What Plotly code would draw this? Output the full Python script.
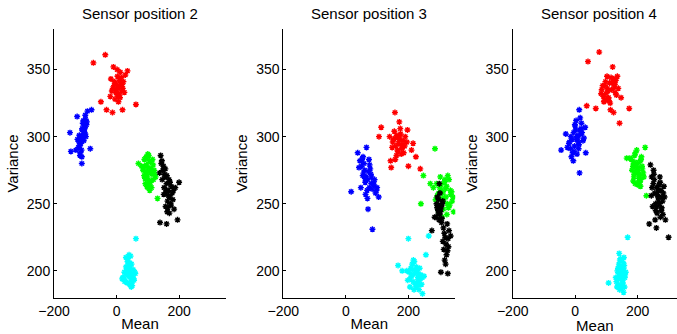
import plotly.graph_objects as go

# ---------------- data (Mean, Variance) ----------------
# Sensor position 2
p2_red_mean = [-74,-36,-10,35,62,-50,-32,-13,19,-20,-15,-8,-3,0,3,5,8,10,12,15,18,22,25,-5,2,6,-12,-18,9,14,28,-2,4,11,-7,20,1,16]
p2_red_var = [355,361,352,349,324,326,320,318,320,330,334,338,340,335,345,330,337,342,348,334,339,341,333,328,350,326,336,343,331,339,346,333,338,329,341,336,332,344]
p2_blue_mean = [-149,-146,-111,-111,-84,-80,-93,-126,-120,-115,-110,-105,-100,-108,-113,-118,-102,-98,-106,-112,-104,-96,-109,-116,-122,-101,-107,-114,-99,-103,-117,-125,-130,-95,-110,-105,-119,-100]
p2_blue_var = [303,289,280,285,291,320,319,315,296,300,305,308,302,310,298,293,306,300,312,290,304,309,299,288,292,307,301,295,313,303,286,298,290,311,306,297,301,316]
p2_green_mean = [70,131,95,100,105,90,110,115,85,98,102,108,92,88,112,120,96,104,99,94,118,106,86,101,113,97,109,91,103,125,80,107,93,111,100,117,89,122]
p2_green_var = [280,254,285,287,282,278,276,283,275,270,268,273,265,271,262,275,279,266,274,284,268,260,276,277,272,263,281,269,286,270,278,264,273,267,262,279,283,272]
p2_black_mean = [138,139,160,195,184,200,141,150,155,160,165,170,148,152,158,163,168,175,145,157,162,172,178,153,166,180,146,159,171,156,164,188,143,151,174,161,169,182]
p2_black_var = [273,236,235,238,246,266,286,278,270,265,260,255,275,262,258,252,268,263,282,248,244,250,258,272,256,253,268,260,266,276,247,262,280,257,249,271,243,260]
p2_cyan_mean = [62,20,25,30,35,40,45,50,55,32,38,42,48,28,36,44,52,58,22,34,41,47,53,39,30,46,60,26,43,37,50,33,56,41,45,18,29,48]
p2_cyan_var = [224,195,199,203,207,212,196,192,194,200,205,190,198,193,209,202,197,199,195,191,204,188,201,196,210,194,198,192,206,197,189,201,193,200,211,194,198,205]

# Sensor position 3
p3_red_mean = [157,113,106,145,200,238,224,197,140,150,160,165,170,175,180,185,155,162,172,178,168,190,210,148,158,183,174,166,152,188,177,163,195,143,215,171,181,159]
p3_red_var = [318,307,300,277,278,276,285,305,300,296,293,290,298,302,294,288,304,286,299,291,295,300,290,292,283,297,306,289,298,293,287,301,296,282,295,311,292,299]
p3_blue_mean = [17,38,66,71,85,105,45,50,55,60,65,70,75,80,90,95,58,62,68,78,82,52,48,73,88,63,57,76,84,92,100,42,69,74,81,54,98,61]
p3_blue_var = [259,288,292,246,231,255,282,278,285,275,270,268,262,272,264,258,280,266,260,276,270,283,262,274,266,257,273,279,261,268,262,277,254,283,265,271,260,269]
p3_green_mean = [285,248,240,326,290,300,310,320,330,340,295,305,315,325,335,280,298,308,318,328,338,345,292,302,312,322,332,287,297,307,317,270,313,303,323,343,296,334]
p3_green_var = [291,271,250,271,265,262,258,255,268,252,248,260,266,250,257,262,243,254,261,247,259,244,256,270,246,263,249,253,258,240,268,265,252,264,242,255,245,260]
p3_black_mean = [299,304,326,275,290,295,300,305,310,288,293,298,303,308,296,301,306,292,312,315,320,325,318,322,328,330,310,316,324,284,297,302,335,319,313,327,307,294]
p3_black_var = [265,199,198,230,250,245,242,248,252,240,255,238,246,250,243,258,236,247,232,228,220,215,225,212,218,230,222,208,235,240,253,244,226,205,216,224,239,249]
p3_cyan_mean = [200,265,167,256,245,205,195,210,215,220,225,230,235,240,212,218,228,233,202,208,222,238,226,214,232,244,198,236,219,211,229,250,224,206,242,216,234,180]
p3_cyan_var = [224,226,204,212,183,188,200,196,192,198,203,195,190,197,205,186,200,194,199,202,190,194,188,201,198,195,193,202,207,197,192,196,199,194,190,208,186,200]

# Sensor position 4
p4_red_mean = [77,41,120,37,66,123,142,173,147,85,90,95,100,105,110,115,125,130,135,92,98,103,108,118,128,88,112,122,132,97,107,117,127,83,102,113,138,94]
p4_red_var = [363,356,352,323,321,318,310,321,329,335,330,338,328,334,340,344,337,342,345,326,332,336,327,340,333,338,325,343,331,341,329,335,339,332,345,320,336,327]
p4_blue_mean = [-45,13,14,-6,34,32,-30,-20,-15,-10,-5,0,5,10,15,20,-12,-2,8,18,25,-8,3,12,22,-18,6,16,-25,28,1,9,-4,19,-14,11,4,-1]
p4_blue_var = [290,320,273,282,288,307,302,295,291,298,303,308,300,296,305,310,285,293,299,302,297,288,312,294,303,296,287,314,292,299,305,301,289,306,300,291,298,309]
p4_green_mean = [224,165,192,228,180,185,190,195,200,205,210,215,188,193,198,203,208,182,196,201,206,212,218,186,191,199,204,209,175,194,214,197,202,187,207,189,211,220]
p4_green_var = [292,284,265,256,283,278,286,275,280,272,268,276,270,288,274,266,282,275,279,264,271,285,273,267,281,277,269,263,284,273,278,290,275,280,266,272,283,270]
p4_black_mean = [241,237,260,299,289,284,245,250,255,260,265,270,275,280,248,253,258,263,268,273,278,252,257,262,267,272,277,282,246,256,266,276,286,251,261,271,281,244]
p4_black_var = [279,235,232,225,238,263,270,265,258,262,255,250,260,252,248,268,245,257,264,240,255,272,250,243,260,266,247,258,262,238,252,245,255,275,248,270,242,256]
p4_cyan_mean = [168,141,107,155,130,135,140,145,150,155,160,138,143,148,153,158,132,146,151,156,162,136,142,149,154,147,139,152,157,144,134,150,159,137,145,153,141,148]
p4_cyan_var = [225,213,191,184,195,200,205,198,193,202,197,190,208,195,200,188,192,203,196,210,199,194,186,201,206,189,198,193,204,197,188,199,195,202,209,191,196,187]

titles = ["Sensor position 2", "Sensor position 3", "Sensor position 4"]
x_ticks = [-200, 0, 200]
y_ticks = [200, 250, 300, 350]

panels = [
    [(p2_blue_mean, p2_blue_var, "#0000ff"), (p2_red_mean, p2_red_var, "#ff0000"),
     (p2_green_mean, p2_green_var, "#00ff00"), (p2_black_mean, p2_black_var, "#000000"),
     (p2_cyan_mean, p2_cyan_var, "#00ffff")],
    [(p3_blue_mean, p3_blue_var, "#0000ff"), (p3_red_mean, p3_red_var, "#ff0000"),
     (p3_green_mean, p3_green_var, "#00ff00"), (p3_black_mean, p3_black_var, "#000000"),
     (p3_cyan_mean, p3_cyan_var, "#00ffff")],
    [(p4_blue_mean, p4_blue_var, "#0000ff"), (p4_red_mean, p4_red_var, "#ff0000"),
     (p4_green_mean, p4_green_var, "#00ff00"), (p4_black_mean, p4_black_var, "#000000"),
     (p4_cyan_mean, p4_cyan_var, "#00ffff")],
]

W, H = 677, 334
x_dom_px = [(54, 226), (283.3, 455.3), (512.7, 677)]
x_ranges = [[-200, 350], [-200, 350], [-200, 326]]
y_dom = [(H - 297.7) / H, (H - 29.3) / H]
FONT = "Liberation Sans, Arial, sans-serif"

fig = go.Figure()
for i, traces in enumerate(panels):
    sfx = "" if i == 0 else str(i + 1)
    for xs, ys, col in traces:
        fig.add_trace(go.Scatter(
            x=xs, y=ys, mode="markers", xaxis="x" + sfx, yaxis="y" + sfx,
            marker=dict(symbol="asterisk-open", size=5, color=col,
                        line=dict(color=col, width=1.4)),
            showlegend=False, hoverinfo="skip"))
    axcommon = dict(showgrid=False, zeroline=False, showline=True, linecolor="black",
                    linewidth=1, ticks="inside", ticklen=3, tickcolor="black",
                    automargin=False,
                    tickfont=dict(size=14, color="black", family=FONT))
    fig.layout["xaxis" + sfx] = dict(
        axcommon, domain=[x_dom_px[i][0] / W, x_dom_px[i][1] / W], range=x_ranges[i],
        tickvals=x_ticks, anchor="y" + sfx,
        title=dict(text="Mean", font=dict(size=15, color="black", family=FONT), standoff=0))
    fig.layout["yaxis" + sfx] = dict(
        axcommon, domain=y_dom, range=[180, 380], tickvals=y_ticks, anchor="x" + sfx,
        title=dict(text="Variance", font=dict(size=15, color="black", family=FONT), standoff=4))
    fig.add_annotation(
        text=titles[i], xref="paper", yref="paper",
        x=(x_dom_px[0][0] + x_dom_px[0][1]) / 2 / W + (x_dom_px[i][0] - x_dom_px[0][0]) / W,
        y=(H - 13) / H, xanchor="center", yanchor="middle", showarrow=False,
        font=dict(size=15, color="black", family=FONT))

fig.update_layout(width=W, height=H, margin=dict(l=0, r=0, t=0, b=0),
                  paper_bgcolor="white", plot_bgcolor="white")
fig.write_html("out.html")
